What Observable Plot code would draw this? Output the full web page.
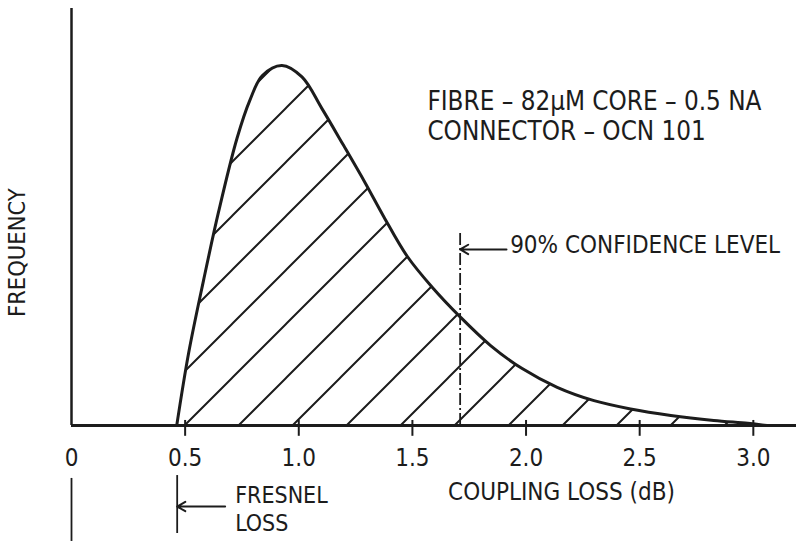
<!DOCTYPE html>
<html>
<head>
<meta charset="utf-8">
<script src="https://cdn.jsdelivr.net/npm/d3@7"></script>
<script src="https://cdn.jsdelivr.net/npm/@observablehq/plot@0.6"></script>
<style>
  html, body { margin: 0; padding: 0; background: #fff; }
  #chart svg { display: block; }
</style>
</head>
<body>
<div id="chart"></div>
<script>
// Coupling loss (dB) vs relative frequency
const lossDB = [0.463, 0.515, 0.581, 0.647, 0.728, 0.786, 0.840, 0.926, 1.014, 1.102, 1.197, 1.293, 1.374, 1.477, 1.587, 1.711, 1.844, 1.983, 2.137, 2.299, 2.460, 2.637, 2.826, 2.976, 3.06];
const frequency = [0, 20.0, 40.3, 59.3, 79.7, 90.5, 97.2, 100, 96.8, 88.0, 77.8, 67.3, 58.0, 47.0, 38.4, 30.1, 22.2, 15.8, 10.6, 6.9, 4.6, 2.8, 1.4, 0.6, 0];

const tickValues = [0, 0.5, 1.0, 1.5, 2.0, 2.5, 3.0];
const fresnelLoss = 0.465;
const confidence90 = 1.71;

const infoLines = ["FIBRE – 82µM CORE – 0.5 NA", "CONNECTOR – OCN 101"];
const xLabel = "COUPLING LOSS (dB)";
const yLabel = "FREQUENCY";
const confidenceLabel = "90% CONFIDENCE LEVEL";
const fresnelLines = ["FRESNEL", "LOSS"];

const curve = lossDB.map((x, i) => ({x, y: frequency[i]}));
const FONT = "'DejaVu Sans Condensed', 'DejaVu Sans', sans-serif";
const INK = "#1c1c1c";

const hatchDefs = () => {
  const defs = d3.create("svg:defs");
  const p = defs.append("pattern")
    .attr("id", "hatch")
    .attr("patternUnits", "userSpaceOnUse")
    .attr("width", 54).attr("height", 54)
    .attr("x", 16).attr("y", 0);
  p.append("path")
    .attr("d", "M0,54L54,0M-2,2L2,-2M52,56L56,52")
    .attr("stroke", INK).attr("stroke-width", 2);
  return defs.node();
};

const chart = Plot.plot({
  width: 796,
  height: 541,
  marginLeft: 71,
  marginRight: 0,
  marginTop: 8,
  marginBottom: 116,
  style: {background: "#fff", fontFamily: FONT, fontStretch: "condensed", color: INK, overflow: "visible"},
  x: {domain: [0, 3.19]},
  y: {domain: [0, 115.8], axis: null},
  marks: [
    hatchDefs,
    Plot.areaY(curve, {x: "x", y: "y", fill: "url(#hatch)", curve: "catmull-rom"}),
    Plot.lineY(curve, {x: "x", y: "y", stroke: INK, strokeWidth: 3, curve: "catmull-rom"}),
    // axes lines
    Plot.ruleY([0], {stroke: INK, strokeWidth: 3}),
    Plot.ruleX([0], {stroke: INK, strokeWidth: 2.5}),
    // tick crosses
    Plot.ruleX(tickValues.filter(d => d > 0), {y1: -3, y2: 1.4, stroke: INK, strokeWidth: 2}),
    Plot.axisX({ticks: tickValues, tickSize: 0, tickPadding: 23, fontSize: 24, fill: INK,
      tickFormat: d => d === 0 ? "0" : d.toFixed(1), label: null}),
    // axis titles
    Plot.text([xLabel], {x: 2.156, y: -20.8, text: d => d, fontSize: 24, lineAnchor: "bottom", textAnchor: "middle", fill: INK}),
    Plot.text([yLabel], {x: -0.205, y: 48, text: d => d, rotate: -90, fontSize: 23.5, lineAnchor: "bottom", textAnchor: "middle", fill: INK}),
    // info text
    Plot.text(infoLines, {x: 1.566, y: (d, i) => [87.5, 79.2][i], text: d => d, fontSize: 25.8, textAnchor: "start", lineAnchor: "bottom", fill: INK}),
    // 90% confidence
    Plot.ruleX([confidence90], {y1: 0, y2: 53.7, stroke: INK, strokeWidth: 1.8, strokeDasharray: "12,3,2,3"}),
    Plot.arrow([confidence90], {x1: 1.914, x2: d => d, y1: 48.9, y2: 48.9, stroke: INK, strokeWidth: 2, headLength: 7}),
    Plot.text([confidenceLabel], {x: 1.93, y: 48, text: d => d, fontSize: 24, textAnchor: "start", lineAnchor: "bottom", fill: INK}),
    // Fresnel loss
    Plot.ruleX([fresnelLoss], {y1: -13.9, y2: -30, stroke: INK, strokeWidth: 1.8}),
    Plot.arrow([fresnelLoss], {x1: 0.676, x2: d => d, y1: -22.5, y2: -22.5, stroke: INK, strokeWidth: 2, headLength: 7}),
    Plot.text(fresnelLines, {x: 0.72, y: (d, i) => [-21.4, -29.2][i], text: d => d, fontSize: 23, textAnchor: "start", lineAnchor: "bottom", fill: INK}),
    Plot.ruleX([0], {y1: -14.7, y2: -32.2, stroke: INK, strokeWidth: 1.8})
  ]
});
document.getElementById("chart").appendChild(chart);
</script>
</body>
</html>
